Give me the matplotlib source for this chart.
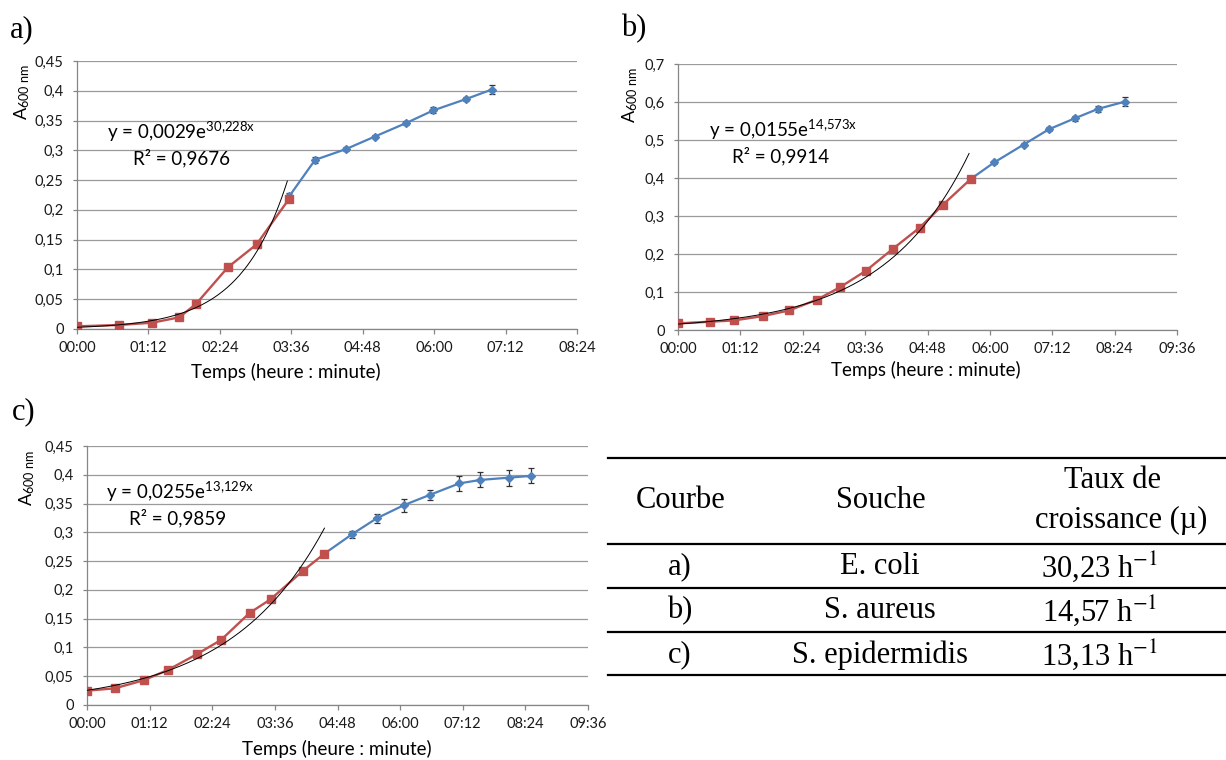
import numpy as np
import matplotlib
matplotlib.use('Agg')
import matplotlib.pyplot as plt
from matplotlib.ticker import FuncFormatter, MultipleLocator

plt.rcParams['font.family'] = ['Lato', 'DejaVu Sans']
plt.rcParams['mathtext.fontset'] = 'custom'
plt.rcParams['mathtext.rm'] = 'Lato'
plt.rcParams['mathtext.it'] = 'Lato:italic'
plt.rcParams['mathtext.bf'] = 'Lato:bold'

RED = '#C0504D'
BLUE = '#4F81BD'
GRID = '#9a9a9a'
AXC = '#868686'

# ---------------- data (time in minutes, absorbance A600) ----------------
a_red_t = [0, 42, 76, 103, 120, 152, 181, 214]
a_red_y = [0.0045, 0.0067, 0.0106, 0.0196, 0.042, 0.1035, 0.142, 0.219]
a_red_e = [0.002, 0.002, 0.002, 0.002, 0.003, 0.005, 0.006, 0.004]
a_blue_t = [214, 240, 271, 300, 332, 359, 392, 418]
a_blue_y = [0.223, 0.284, 0.302, 0.323, 0.346, 0.367, 0.386, 0.402]
a_blue_e = [0.006, 0.005, 0.003, 0.003, 0.003, 0.005, 0.004, 0.007]

b_red_t = [0, 37, 65, 98, 128, 160, 187, 217, 248, 279, 306, 338]
b_red_y = [0.0174, 0.0218, 0.0253, 0.0366, 0.0514, 0.0793, 0.1125, 0.156,
           0.2136, 0.2694, 0.330, 0.3975]
b_red_e = [0.002] * 12
b_blue_t = [338, 365, 399, 428, 458, 485, 516]
b_blue_y = [0.3975, 0.441, 0.488, 0.528, 0.557, 0.582, 0.601]
b_blue_e = [0.003, 0.004, 0.004, 0.005, 0.006, 0.008, 0.011]

c_red_t = [0, 32, 65, 93, 126, 154, 187, 211, 248, 273]
c_red_y = [0.0249, 0.029, 0.0429, 0.0608, 0.088, 0.1129, 0.16, 0.1836,
           0.2328, 0.263]
c_red_e = [0.002] * 10
c_blue_t = [273, 305, 333, 364, 394, 428, 452, 485, 510]
c_blue_y = [0.263, 0.297, 0.3243, 0.347, 0.365, 0.385, 0.391, 0.395, 0.398]
c_blue_e = [0.003, 0.006, 0.008, 0.011, 0.009, 0.013, 0.013, 0.014, 0.013]

# exponential trendlines (A = a * exp(b * t_days)), drawn up to t_end (min)
fit_a = (0.0029, 30.228, 212)
fit_b = (0.0155, 14.573, 336)
fit_c = (0.0255, 13.129, 273)

eq_a = ('y = 0,0029e', '30,228x', 'R² = 0,9676')
eq_b = ('y = 0,0155e', '14,573x', 'R² = 0,9914')
eq_c = ('y = 0,0255e', '13,129x', 'R² = 0,9859')

table_header = ['Courbe', 'Souche', 'Taux de', 'croissance (µ)']
table_curve = ['a)', 'b)', 'c)']
table_strain = ['E. coli', 'S. aureus', 'S. epidermidis']
table_rate = ['30,23', '14,57', '13,13']

W, H = 1226, 760
fig = plt.figure(figsize=(W / 100, H / 100), dpi=100)


def fx(x):
    return x / W


def fy(y):
    return 1 - y / H


def hhmm(x, pos):
    m = int(round(x * 1440))
    return f'{m // 60:02d}:{m % 60:02d}'


def d(ts):
    return np.array(ts) / 1440.0


def panel(px, red, blue, fit, xmax, ymax, ystep, yfmt, eq, eqpos, ylab_pos,
          xlab_pos, label, label_pos):
    x0, x1, y0, y1 = px
    ax = fig.add_axes([fx(x0), fy(y0), fx(x1) - fx(x0), fy(y1) - fy(y0)])
    ax.set_xlim(0, xmax)
    ax.set_ylim(0, ymax)
    ax.xaxis.set_major_locator(MultipleLocator(0.05))
    ax.xaxis.set_major_formatter(FuncFormatter(hhmm))
    ax.yaxis.set_major_locator(MultipleLocator(ystep))
    ax.yaxis.set_major_formatter(FuncFormatter(yfmt))
    ax.grid(axis='y', color=GRID, lw=0.9)
    ax.set_axisbelow(True)
    for s in ['top', 'right']:
        ax.spines[s].set_visible(False)
    for s in ['left', 'bottom']:
        ax.spines[s].set_color(AXC)
        ax.spines[s].set_linewidth(0.9)
    ax.tick_params(axis='x', direction='out', length=3.6, width=0.9, color=AXC,
                   labelsize=10.5, pad=5, labelcolor='#1a1a1a')
    ax.tick_params(axis='y', direction='out', length=3, width=0.9, color=AXC,
                   labelsize=10.5, pad=6.5, labelcolor='#1a1a1a')

    bt, by, be = blue
    ax.errorbar(d(bt), by, yerr=be, color=BLUE, lw=1.6, marker='D', ms=3.8,
                ecolor='#333333', elinewidth=0.9, capsize=2, capthick=0.9, zorder=3)
    rt, ry, re = red
    ax.errorbar(d(rt), ry, yerr=re, color=RED, lw=1.7, marker='s', ms=6,
                ecolor='#333333', elinewidth=0.9, capsize=2, capthick=0.9, zorder=4)
    a, b, tend = fit
    tt = np.linspace(0, tend / 1440.0, 200)
    ax.plot(tt, a * np.exp(b * tt), color='black', lw=0.7, zorder=5)

    fig.text(fx(xlab_pos[0]), fy(xlab_pos[1]), 'Temps (heure : minute)',
             fontsize=13.5, ha='center', va='center')

    # equation
    ex, ey, rx, ry_ = eqpos
    fig.text(fx(ex), fy(ey), eq[0] + '$^{\\mathrm{' + eq[1].replace(',', '{,}') + '}}$',
             fontsize=13.5, ha='left', va='center')
    fig.text(fx(rx), fy(ry_), eq[2], fontsize=13.5, ha='left', va='center')
    # y label
    fig.text(fx(ylab_pos[0]), fy(ylab_pos[1]), 'A$_{\\mathrm{600\\ nm}}$', rotation=90,
             fontsize=13, ha='center', va='center')
    fig.text(fx(label_pos[0]), fy(label_pos[1]), label, fontsize=22,
             family='Liberation Serif', ha='center', va='center')
    return ax


def fmt_a(v, pos):
    s = f'{v:.2f}'.rstrip('0').rstrip('.')
    return s.replace('.', ',')


def fmt_b(v, pos):
    s = f'{v:.1f}'.rstrip('0').rstrip('.')
    return s.replace('.', ',')


panel((77, 577, 329, 61), (a_red_t, a_red_y, a_red_e), (a_blue_t, a_blue_y, a_blue_e),
      fit_a, 0.35, 0.45, 0.05, fmt_a, eq_a, (107, 132, 133, 158), (22, 92), (286, 372),
      'a)', (22, 30))
panel((678, 1177, 330, 64), (b_red_t, b_red_y, b_red_e), (b_blue_t, b_blue_y, b_blue_e),
      fit_b, 0.40, 0.70, 0.1, fmt_b, eq_b, (709, 130, 732, 156), (630, 95), (926, 370),
      'b)', (634, 29))
panel((87, 588, 705, 446), (c_red_t, c_red_y, c_red_e), (c_blue_t, c_blue_y, c_blue_e),
      fit_c, 0.40, 0.45, 0.05, fmt_a, eq_c, (106, 492, 129, 518), (27, 478), (337, 749),
      'c)', (24, 412))

# ---------------- table ----------------
for yy in [458, 544, 588, 632, 675]:
    fig.add_artist(plt.Line2D([fx(608), fx(1226)], [fy(yy), fy(yy)], color='black',
                              lw=1.6, transform=fig.transFigure))
tkw = dict(family='Liberation Serif', fontsize=22, ha='center', va='center',
           math_fontfamily='stix')
fig.text(fx(681), fy(500), table_header[0], **tkw)
fig.text(fx(881), fy(500), table_header[1], **tkw)
fig.text(fx(1112), fy(480), table_header[2], **tkw)
fig.text(fx(1121), fy(520), table_header[3], **tkw)
for i in range(3):
    yy = 567 + 44 * i
    fig.text(fx(680), fy(yy), table_curve[i], **tkw)
    fig.text(fx(880), fy(yy), table_strain[i], **tkw)
    fig.text(fx(1100), fy(yy), table_rate[i] + ' h$^{\\mathrm{-1}}$', **tkw)

fig.savefig('out.png', dpi=100)
